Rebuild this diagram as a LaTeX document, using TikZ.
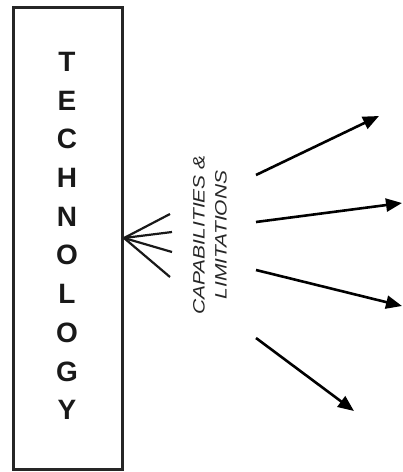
\documentclass[tikz,border=0pt]{standalone}
\usepackage{fontspec}
\setmainfont{Liberation Sans}
\usetikzlibrary{arrows.meta}
\begin{document}
\begin{tikzpicture}[x=1pt,y=-1pt,
  boxstyle/.style={draw=black!85,line width=3pt,minimum width=109pt,minimum height=462pt,inner sep=0pt},
  fanline/.style={line width=2.2pt,draw=black!90},
  arr/.style={line width=2.6pt,-{Triangle[length=16pt,width=13pt]}},
  vertword/.style={font=\bfseries\fontsize{28}{38.7}\selectfont,align=center,text=black!90},
  sidetext/.style={rotate=90,font=\itshape\fontsize{16.5}{22}\selectfont,align=center,text=black!85}]
\useasboundingbox (0,0) rectangle (403,472);
\node[boxstyle] (tech) at (68,238.5) {};
\node[vertword] (word) at (67,236) {T\\E\\C\\H\\N\\O\\L\\O\\G\\Y};
\node[sidetext] (cap) at (210,235) {\scalebox{1.27}[1]{CAPABILITIES \&}\\\scalebox{1.27}[1]{LIMITATIONS}};
\coordinate (apex) at (124,238);
\coordinate (f1) at (170,214);
\coordinate (f2) at (172,232);
\coordinate (f3) at (172,252);
\coordinate (f4) at (170,277);
\foreach \f in {f1,f2,f3,f4} \draw[fanline] (apex) -- (\f);
\coordinate (s1) at (256,175); \coordinate (e1) at (379,116);
\coordinate (s2) at (256,222); \coordinate (e2) at (402,203);
\coordinate (s3) at (256,270); \coordinate (e3) at (402,306);
\coordinate (s4) at (256,338); \coordinate (e4) at (354,411);
\draw[arr] (s1) -- (e1);
\draw[arr] (s2) -- (e2);
\draw[arr] (s3) -- (e3);
\draw[arr] (s4) -- (e4);
\end{tikzpicture}
\end{document}
